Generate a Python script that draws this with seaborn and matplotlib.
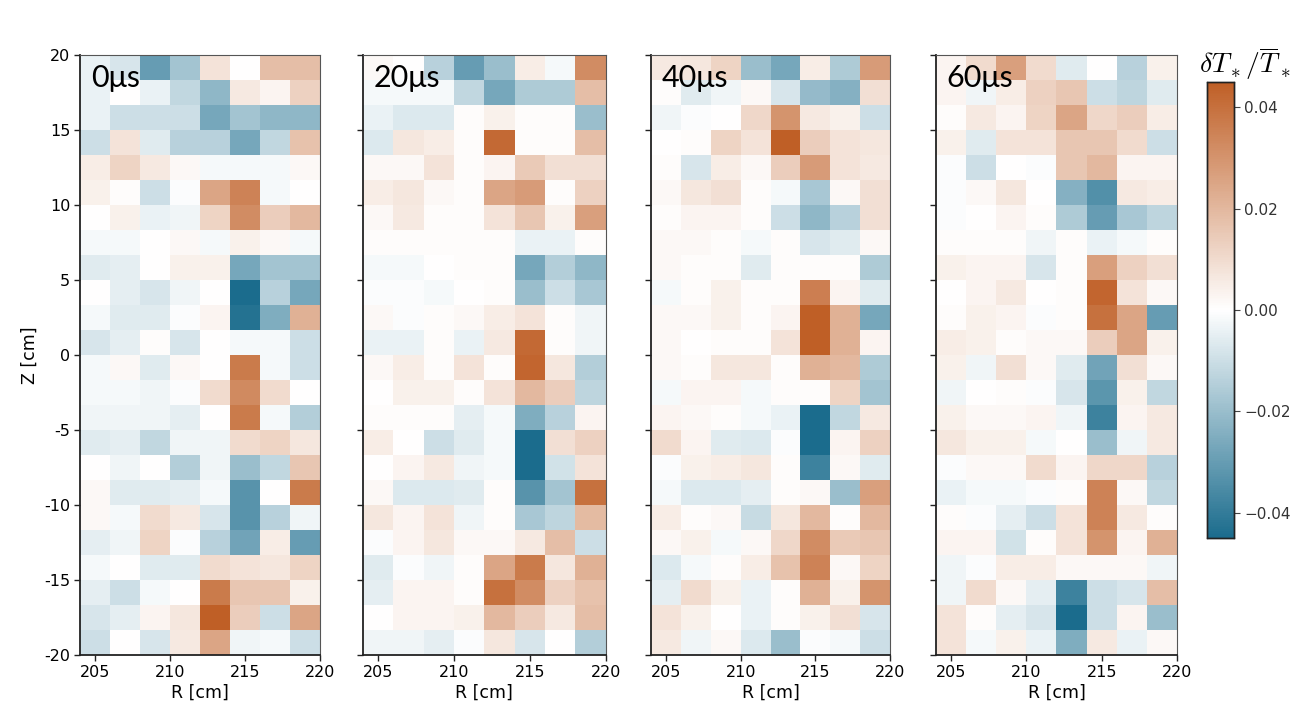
import numpy as np
import pandas as pd
import matplotlib
matplotlib.use('Agg')
import matplotlib.pyplot as plt
import seaborn as sns

# Grid: 8 radial cells (204-220 cm), 24 vertical cells (Z from +20 down to -20 cm)
r_lo, r_hi = 204, 220
z_hi, z_lo = 20, -20
r_ticks = [205, 210, 215, 220]
z_ticks = [20, 15, 10, 5, 0, -5, -10, -15, -20]
times = ['0μs', '20μs', '40μs', '60μs']

# dT/T values, rows from top (Z=20) to bottom (Z=-20), columns R=204..220
dT_0us = [
    [-0.004, -0.008, -0.030, -0.018, 0.008, 0.000, 0.018, 0.018],
    [-0.004, 0.000, -0.004, -0.012, -0.022, 0.006, 0.003, 0.013],
    [-0.004, -0.010, -0.010, -0.010, -0.027, -0.018, -0.022, -0.022],
    [-0.010, 0.008, -0.006, -0.014, -0.014, -0.027, -0.012, 0.017],
    [0.005, 0.012, 0.006, 0.002, -0.002, -0.002, -0.002, 0.002],
    [0.004, 0.001, -0.010, -0.001, 0.025, 0.035, -0.002, 0.000],
    [0.000, 0.004, -0.004, -0.003, 0.012, 0.032, 0.014, 0.020],
    [-0.002, -0.002, 0.000, 0.002, -0.002, 0.004, 0.002, -0.002],
    [-0.006, -0.005, 0.000, 0.004, 0.004, -0.027, -0.018, -0.018],
    [0.000, -0.005, -0.008, -0.003, 0.000, -0.045, -0.014, -0.027],
    [-0.002, -0.006, -0.006, -0.001, 0.003, -0.043, -0.025, 0.022],
    [-0.008, -0.005, 0.001, -0.008, 0.000, -0.002, -0.002, -0.010],
    [-0.002, 0.002, -0.006, 0.002, 0.000, 0.037, -0.002, -0.010],
    [-0.002, -0.002, -0.003, -0.001, 0.010, 0.033, 0.010, 0.000],
    [-0.003, -0.003, -0.003, -0.005, 0.000, 0.037, -0.002, -0.015],
    [-0.006, -0.005, -0.012, -0.003, -0.003, 0.010, 0.012, 0.007],
    [0.000, -0.003, 0.000, -0.015, -0.003, -0.020, -0.012, 0.016],
    [0.002, -0.006, -0.006, -0.005, -0.002, -0.033, 0.000, 0.037],
    [0.002, -0.002, 0.010, 0.006, -0.008, -0.033, -0.014, -0.003],
    [-0.005, -0.003, 0.012, -0.001, -0.014, -0.028, 0.005, -0.030],
    [-0.002, 0.000, -0.006, -0.006, 0.010, 0.008, 0.007, 0.012],
    [-0.005, -0.010, -0.002, 0.000, 0.037, 0.016, 0.016, 0.004],
    [-0.008, -0.005, 0.003, 0.007, 0.045, 0.014, -0.010, 0.025],
    [-0.010, 0.000, -0.008, 0.006, 0.025, -0.003, -0.002, -0.010],
]
dT_20us = [
    [0.002, 0.000, -0.014, -0.030, -0.020, 0.005, -0.002, 0.032],
    [-0.002, -0.002, -0.002, -0.012, -0.027, -0.016, -0.016, 0.018],
    [-0.004, -0.007, -0.007, 0.001, 0.004, 0.001, 0.001, -0.020],
    [-0.007, 0.007, 0.005, 0.001, 0.042, 0.001, 0.001, 0.018],
    [0.002, 0.002, 0.008, 0.001, 0.003, 0.015, 0.009, 0.009],
    [0.005, 0.007, 0.002, 0.001, 0.025, 0.028, 0.001, 0.013],
    [0.002, 0.006, 0.001, 0.001, 0.008, 0.016, 0.004, 0.027],
    [0.001, 0.001, 0.001, 0.001, 0.001, -0.004, -0.004, 0.001],
    [-0.002, -0.002, 0.000, 0.001, 0.001, -0.027, -0.015, -0.022],
    [-0.001, -0.001, -0.002, 0.000, 0.001, -0.020, -0.010, -0.017],
    [0.002, -0.001, 0.001, 0.002, 0.005, 0.008, 0.001, -0.003],
    [-0.004, -0.004, 0.001, -0.004, 0.006, 0.042, 0.001, -0.003],
    [0.002, 0.005, 0.001, 0.008, 0.001, 0.043, 0.007, -0.015],
    [0.000, 0.004, 0.004, 0.001, 0.008, 0.020, 0.014, -0.013],
    [0.001, 0.001, 0.001, -0.005, -0.002, -0.025, -0.014, 0.003],
    [0.005, 0.000, -0.010, -0.006, -0.002, -0.045, 0.009, 0.013],
    [0.000, 0.003, 0.006, -0.003, -0.002, -0.045, -0.009, 0.008],
    [0.002, -0.007, -0.007, -0.006, 0.001, -0.033, -0.018, 0.040],
    [0.007, 0.003, 0.008, -0.003, 0.001, -0.017, -0.013, 0.019],
    [-0.001, 0.003, 0.007, 0.002, 0.002, 0.006, 0.018, -0.010],
    [-0.006, -0.001, -0.003, 0.001, 0.025, 0.037, 0.007, 0.022],
    [-0.005, 0.003, 0.003, 0.001, 0.040, 0.032, 0.013, 0.017],
    [0.000, 0.003, 0.003, 0.004, 0.020, 0.014, 0.006, 0.018],
    [-0.003, -0.003, -0.005, -0.001, 0.007, -0.008, 0.000, -0.015],
]
dT_40us = [
    [0.006, 0.007, 0.012, -0.020, -0.027, 0.005, -0.016, 0.028],
    [0.001, -0.006, -0.003, 0.002, -0.008, -0.021, -0.024, 0.009],
    [-0.003, -0.001, 0.000, 0.011, 0.030, 0.006, 0.004, -0.010],
    [0.000, 0.001, 0.012, 0.008, 0.045, 0.014, 0.008, 0.007],
    [0.001, -0.008, 0.005, 0.002, 0.014, 0.028, 0.008, 0.006],
    [0.002, 0.007, 0.009, 0.001, -0.002, -0.017, 0.002, 0.009],
    [0.001, 0.003, 0.003, 0.001, -0.010, -0.022, -0.014, 0.009],
    [0.002, 0.002, 0.001, -0.002, 0.001, -0.008, -0.006, 0.002],
    [0.002, 0.001, 0.001, -0.006, 0.001, 0.001, 0.001, -0.016],
    [-0.002, 0.001, 0.004, 0.001, 0.001, 0.036, 0.003, -0.006],
    [0.002, 0.002, 0.004, 0.001, 0.003, 0.045, 0.022, -0.027],
    [0.002, 0.000, 0.001, 0.001, 0.008, 0.045, 0.022, 0.003],
    [0.002, 0.001, 0.007, 0.007, 0.001, 0.022, 0.020, -0.016],
    [-0.002, 0.003, 0.003, -0.002, 0.001, 0.001, 0.012, -0.018],
    [0.003, 0.002, 0.001, -0.002, -0.004, -0.045, -0.012, 0.006],
    [0.010, 0.003, -0.006, -0.007, -0.001, -0.045, 0.003, 0.013],
    [-0.001, 0.004, 0.005, 0.007, 0.001, -0.038, 0.002, -0.006],
    [-0.002, -0.007, -0.007, -0.005, 0.001, 0.002, -0.020, 0.027],
    [0.005, 0.001, 0.002, -0.011, 0.007, 0.020, 0.001, 0.020],
    [0.002, 0.004, -0.002, 0.002, 0.011, 0.032, 0.015, 0.016],
    [-0.007, -0.002, 0.001, 0.005, 0.017, 0.035, 0.002, 0.012],
    [-0.005, 0.010, 0.004, -0.004, 0.001, 0.022, 0.004, 0.030],
    [0.008, 0.004, 0.000, -0.004, 0.001, 0.004, 0.009, -0.008],
    [0.006, -0.003, 0.002, -0.007, -0.020, -0.001, -0.002, -0.010],
]
dT_60us = [
    [0.003, 0.010, 0.027, 0.010, -0.006, 0.000, -0.014, 0.004],
    [0.003, -0.003, 0.005, 0.013, 0.016, -0.010, -0.013, -0.006],
    [0.001, 0.006, 0.003, 0.012, 0.025, 0.011, 0.014, 0.005],
    [0.004, -0.006, 0.008, 0.008, 0.016, 0.016, 0.010, -0.010],
    [-0.001, -0.010, 0.000, -0.001, 0.016, 0.020, 0.003, 0.003],
    [-0.001, 0.002, 0.007, 0.000, -0.024, -0.034, 0.006, 0.005],
    [-0.001, 0.000, 0.003, 0.001, -0.016, -0.030, -0.017, -0.013],
    [0.001, 0.001, 0.001, -0.003, 0.001, -0.004, -0.002, 0.001],
    [0.004, 0.003, 0.003, -0.008, 0.001, 0.027, 0.013, 0.009],
    [0.000, 0.003, 0.006, 0.000, 0.001, 0.043, 0.008, 0.002],
    [0.001, 0.004, 0.003, -0.001, 0.001, 0.040, 0.025, -0.030],
    [0.005, 0.004, 0.001, 0.002, 0.002, 0.014, 0.025, 0.004],
    [0.004, -0.003, 0.009, 0.002, -0.006, -0.028, 0.009, 0.002],
    [-0.003, 0.000, 0.001, -0.001, -0.008, -0.032, 0.004, -0.012],
    [0.004, 0.002, 0.002, 0.003, -0.003, -0.038, 0.003, 0.006],
    [0.007, 0.004, 0.004, -0.002, 0.000, -0.020, -0.003, 0.006],
    [-0.001, 0.002, 0.002, 0.010, 0.003, 0.011, 0.011, -0.014],
    [-0.004, -0.002, -0.002, -0.001, 0.001, 0.035, 0.002, -0.012],
    [0.001, -0.001, -0.005, -0.010, 0.008, 0.035, 0.006, 0.001],
    [0.003, 0.003, -0.009, 0.001, 0.008, 0.030, 0.003, 0.022],
    [-0.003, -0.001, 0.005, 0.005, 0.002, 0.002, 0.002, -0.003],
    [-0.003, 0.010, 0.002, -0.005, -0.038, -0.010, -0.008, 0.018],
    [0.008, 0.001, -0.005, -0.008, -0.045, -0.010, 0.003, -0.020],
    [0.008, -0.002, 0.004, -0.004, -0.025, 0.006, -0.004, 0.002],
]
panels = [dT_0us, dT_20us, dT_40us, dT_60us]

plt.rcParams['mathtext.fontset'] = 'cm'
cmap = sns.blend_palette(['#1b6c8d', '#ffffff', '#bf5f26'], as_cmap=True)
vlim = 0.045

fig = plt.figure(figsize=(13.06, 7.2), dpi=100)
lefts = [0.0613, 0.2779, 0.4985, 0.7167]
widths = [0.1838, 0.1860, 0.1830, 0.1845]
cax = fig.add_axes([0.9242, 0.2528, 0.0207, 0.6333])

for i, (vals, label) in enumerate(zip(panels, times)):
    ax = fig.add_axes([lefts[i], 0.0903, widths[i], 0.8333])
    arr = np.array(vals)
    nz, nr = arr.shape
    df = pd.DataFrame(arr)
    sns.heatmap(df, ax=ax, cmap=cmap, vmin=-vlim, vmax=vlim, center=0,
                cbar=(i == 0), cbar_ax=cax if i == 0 else None,
                xticklabels=False, yticklabels=False)
    # map physical coordinates to heatmap cell positions
    dr = (r_hi - r_lo) / nr
    dz = (z_hi - z_lo) / nz
    ax.set_xticks([(t - r_lo) / dr for t in r_ticks])
    ax.set_xticklabels([str(t) for t in r_ticks], fontsize=11.5, rotation=0)
    ax.set_yticks([(z_hi - t) / dz for t in z_ticks])
    if i == 0:
        ax.set_yticklabels([str(t) for t in z_ticks], fontsize=11.5, rotation=0)
        ax.set_ylabel('Z [cm]', fontsize=12.5)
    else:
        ax.set_yticklabels([])
    ax.set_xlabel('R [cm]', fontsize=12.5, labelpad=3)
    ax.tick_params(axis='both', direction='out', length=4, width=1,
                   color='#222222', pad=3)
    for side, sp in ax.spines.items():
        sp.set_visible(True)
        if side in ('left', 'bottom'):
            sp.set_color('#222222')
            sp.set_linewidth(1.3)
        else:
            sp.set_color('#555555')
            sp.set_linewidth(0.8)
    ax.text(0.045, 0.985, label, transform=ax.transAxes, ha='left', va='top',
            fontsize=22, family=['Lato', 'DejaVu Sans'], color='black')

cax.tick_params(labelsize=11, length=4, color='#444444', labelcolor='#333333')
cax.set_yticks([-0.04, -0.02, 0.0, 0.02, 0.04])
cax.set_yticklabels(['\u22120.04', '\u22120.02', '0.00', '0.02', '0.04'])
for sp in cax.spines.values():
    sp.set_visible(True)
    sp.set_color('#222222')
    sp.set_linewidth(1.0)
fig.text(0.953, 0.912, r'$\delta T_*/\overline{T}_*$', ha='center', va='center',
         fontsize=20)

fig.savefig('out.png', dpi=100, facecolor='white')
